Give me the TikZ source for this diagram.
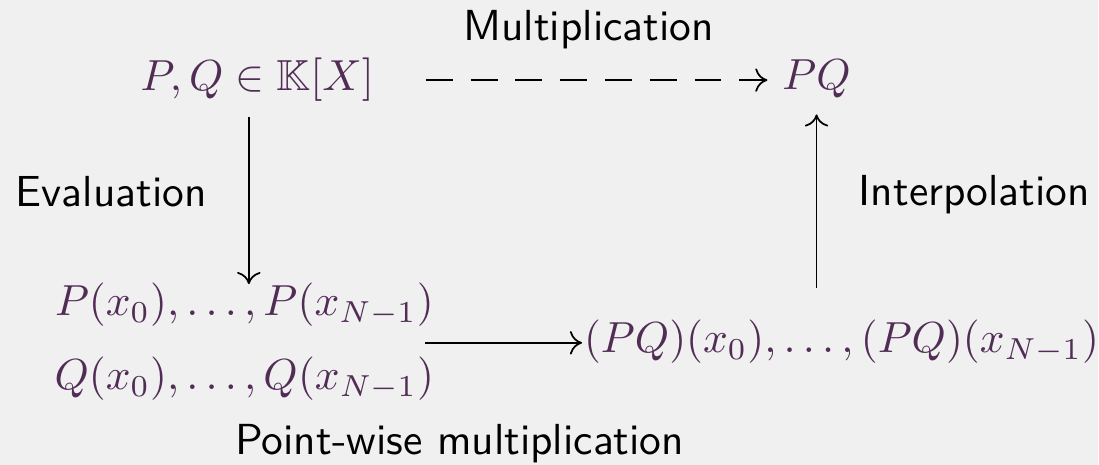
\documentclass[tikz,border=0pt]{standalone}
\usepackage{amsmath}
\usepackage{amssymb}
\usetikzlibrary{positioning, arrows.meta, calc}
\definecolor{mathpurple}{HTML}{512D56}
\definecolor{slidegrey}{HTML}{F0F0F0}

\begin{document}
\begin{tikzpicture}[
  x=0.23pt, y=-0.23pt,
  mathnode/.style={
    inner sep=0pt,
    outer sep=0pt,
    text=mathpurple
  },
  labelnode/.style={
    inner sep=0pt,
    font=\sffamily,
    text=black
  },
  cdarrow/.style={
    -{Computer Modern Rightarrow[length=2.8pt, width=5.4pt]},
    line width=0.4pt,
    black
  },
  cddashed/.style={
    cdarrow,
    dash pattern=on 6.2pt off 4.1pt
  }
]

  % --- Background (keeps the margins) ---
  \fill[slidegrey] (0,0) rectangle (1099,465);

  % --- The four corners of the square ---
  \node[mathnode, anchor=base] (polys)   at (257.5,91) {$P,Q \in \mathbb{K}[X]$};
  \node[mathnode, anchor=base] (prod)    at (817,90)   {$PQ$};
  \node[mathnode, align=center, font=\fontsize{10}{17}\selectfont]
                               (values)  at (244.5,342)
       {$P(x_0),\ldots,P(x_{N-1})$\\ $Q(x_0),\ldots,Q(x_{N-1})$};
  \node[mathnode, anchor=base] (pvalues) at (842,353) {$(PQ)(x_0),\ldots,(PQ)(x_{N-1})$};

  % --- Labels of the arrows ---
  \node[labelnode, anchor=base] (lmult)   at (589,41)    {Multiplication};
  \node[labelnode, anchor=base] (leval)   at (111.5,207) {Evaluation};
  \node[labelnode, anchor=base] (linterp) at (975,206)   {Interpolation};
  \node[labelnode, anchor=base] (lpoint)  at (460,455)   {Point-wise multiplication};

  % --- Arrows ---
  \draw[cddashed] ($(polys.east)+(52,0)$) -- ($(prod.west |- polys.east)+(-15,0)$);
  \draw[cdarrow]  ($(polys.south)+(-8.5,15)$) -- ($(values.north -| polys.south)+(-8.5,1)$);
  \draw[cdarrow]  ($(values.east)+(-9,1)$) -- ($(pvalues.west |- values.east)+(-2,1)$);
  \draw[cdarrow]  ($(pvalues.north -| prod.south)+(0,-32)$) -- ($(prod.south)+(0,16)$);

\end{tikzpicture}
\end{document}
